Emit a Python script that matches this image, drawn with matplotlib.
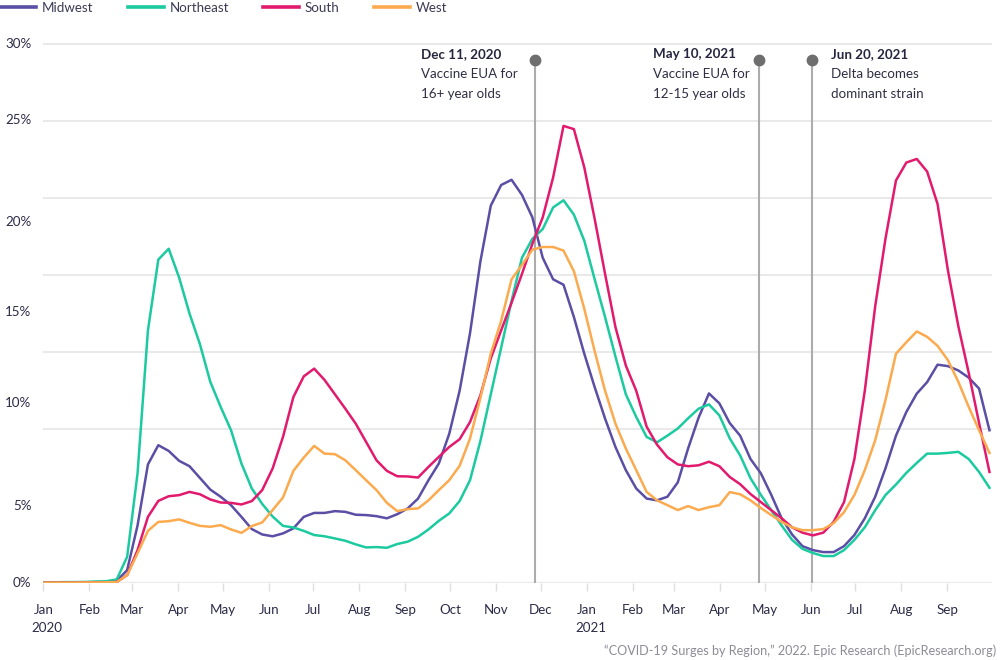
import matplotlib
matplotlib.use('Agg')
import matplotlib.pyplot as plt
import pandas as pd
from matplotlib.lines import Line2D

plt.rcParams['font.family'] = ['Lato', 'DejaVu Sans']

# ---------------- data ----------------
N_WEEKS = 92
week_dates = pd.date_range('2020-01-01 12:00', periods=N_WEEKS, freq='7D')

midwest = [0.03, 0.03, 0.03, 0.03, 0.04, 0.05, 0.06, 0.12, 0.72, 3.2,
           6.6, 7.67, 7.35, 6.8, 6.5, 5.85, 5.2, 4.8, 4.33, 3.68,
           3.0, 2.7, 2.6, 2.76, 3.04, 3.68, 3.9, 3.9, 4.0, 3.96,
           3.8, 3.78, 3.72, 3.6, 3.83, 4.15, 4.7, 5.72, 6.65, 8.3,
           10.7, 13.9, 17.9, 21.0, 22.15, 22.44, 21.6, 20.35, 18.1, 16.9,
           16.6, 14.8, 12.76, 10.9, 9.15, 7.57, 6.28, 5.26, 4.7, 4.6,
           4.8, 5.6, 7.5, 9.2, 10.55, 10.0, 8.9, 8.2, 6.9, 6.1,
           4.9, 3.6, 2.7, 2.05, 1.83, 1.72, 1.72, 2.05, 2.67, 3.6,
           4.8, 6.4, 8.2, 9.52, 10.54, 11.18, 12.15, 12.07, 11.83, 11.43,
           10.82, 8.5]

northeast = [0.04, 0.04, 0.05, 0.05, 0.06, 0.08, 0.1, 0.2, 1.46, 6.1,
             14.06, 18.0, 18.6, 17.0, 15.0, 13.3, 11.2, 9.8, 8.5, 6.65,
             5.26, 4.4, 3.7, 3.18, 3.09, 2.9, 2.67, 2.6, 2.48, 2.35,
             2.15, 1.98, 2.0, 1.96, 2.17, 2.3, 2.57, 2.98, 3.46, 3.87,
             4.56, 5.72, 7.9, 10.5, 13.1, 15.7, 18.1, 19.15, 19.7, 20.9,
             21.3, 20.5, 19.05, 16.9, 14.8, 12.6, 10.5, 9.24, 8.13, 7.83,
             8.2, 8.6, 9.17, 9.7, 9.94, 9.33, 8.05, 7.1, 5.83, 4.9,
             4.05, 3.2, 2.4, 1.9, 1.67, 1.5, 1.5, 1.83, 2.4, 3.1,
             4.05, 4.9, 5.48, 6.13, 6.68, 7.2, 7.2, 7.24, 7.3, 6.9,
             6.18, 5.3]

south = [0.02, 0.02, 0.02, 0.02, 0.03, 0.03, 0.04, 0.06, 0.44, 1.83,
         3.68, 4.57, 4.83, 4.89, 5.07, 4.94, 4.65, 4.48, 4.46, 4.37,
         4.56, 5.17, 6.37, 8.13, 10.35, 11.5, 11.93, 11.3, 10.5, 9.7,
         8.87, 7.85, 6.83, 6.24, 5.94, 5.93, 5.87, 6.46, 7.02, 7.57,
         8.0, 8.96, 10.44, 12.5, 14.06, 15.6, 17.2, 18.87, 20.35, 22.57,
         25.44, 25.26, 23.13, 20.26, 17.2, 14.24, 12.1, 10.7, 8.7, 7.7,
         7.0, 6.6, 6.5, 6.55, 6.75, 6.5, 5.9, 5.5, 4.95, 4.5,
         4.05, 3.6, 3.1, 2.8, 2.65, 2.8, 3.4, 4.5, 6.9, 10.7,
         15.4, 19.2, 22.4, 23.4, 23.6, 22.9, 21.1, 17.4, 14.3, 11.7,
         8.9, 6.18]

west = [0.02, 0.02, 0.02, 0.02, 0.03, 0.03, 0.04, 0.05, 0.44, 1.65,
        2.9, 3.4, 3.44, 3.54, 3.35, 3.18, 3.13, 3.22, 2.98, 2.79,
        3.17, 3.37, 4.06, 4.76, 6.24, 6.98, 7.63, 7.2, 7.17, 6.83,
        6.28, 5.72, 5.17, 4.46, 4.0, 4.11, 4.15, 4.6, 5.17, 5.72,
        6.52, 8.04, 10.3, 12.76, 14.6, 16.9, 17.7, 18.55, 18.7, 18.7,
        18.5, 17.35, 15.26, 12.9, 10.7, 8.87, 7.48, 6.28, 5.07, 4.6,
        4.33, 4.06, 4.28, 4.06, 4.22, 4.33, 5.06, 4.94, 4.6, 4.17,
        3.78, 3.4, 3.1, 2.94, 2.94, 3.0, 3.33, 3.94, 4.9, 6.28,
        7.94, 10.2, 12.76, 13.4, 14.0, 13.7, 13.2, 12.4, 11.2, 9.8,
        8.5, 7.24]

series_names = ['Midwest', 'Northeast', 'South', 'West']
series_values = [midwest, northeast, south, west]
series_colors = ['#5a4ea5', '#1ccaa0', '#e21a6e', '#fcaa4e']

month_labels = ['Jan', 'Feb', 'Mar', 'Apr', 'May', 'Jun', 'Jul', 'Aug', 'Sep', 'Oct', 'Nov', 'Dec',
                'Jan', 'Feb', 'Mar', 'Apr', 'May', 'Jun', 'Jul', 'Aug', 'Sep']
month_ticks = pd.date_range('2020-01-01', periods=len(month_labels), freq='MS')
year_labels = ['2020', '2021']
year_ticks = [pd.Timestamp('2020-01-01'), pd.Timestamp('2021-01-01')]

y_labels = ['0%', '5%', '10%', '15%', '20%', '25%', '30%']

event_dates = [pd.Timestamp('2020-11-27'), pd.Timestamp('2021-04-27'), pd.Timestamp('2021-06-02')]
event_titles = ['Dec 11, 2020', 'May 10, 2021', 'Jun 20, 2021']
event_texts = [['Vaccine EUA for', '16+ year olds'],
               ['Vaccine EUA for', '12-15 year olds'],
               ['Delta becomes', 'dominant strain']]

source_text = '\u201cCOVID-19 Surges by Region,\u201d 2022. Epic Research (EpicResearch.org)'

# ---------------- layout ----------------
W, H = 1000, 660
fig = plt.figure(figsize=(W / 100, H / 100), dpi=100)
x0, x1 = 43.3, 991.7
y0, y1 = 583.0, 42.7
ax = fig.add_axes([x0 / W, 1 - y0 / H, (x1 - x0) / W, (y0 - y1) / H])
ax.set_xlim(pd.Timestamp('2020-01-01'), pd.Timestamp('2021-10-01'))
ax.set_ylim(0, 30)
for s in ax.spines.values():
    s.set_visible(False)

# gridlines (equally spaced as in the reference)
grid_vals = [30 * k / 7 for k in range(2, 8)]
for g in grid_vals:
    ax.axhline(g, color='#e7e7e7', lw=1.3, zorder=0)
ax.axhline(0, color='#ebebeb', lw=2.4, zorder=0.5)

# y labels at the positions where the reference renders them
y_label_pos = [0.07, 4.33, 10.07, 15.13, 20.14, 25.82, 30.07]
ax.set_yticks(y_label_pos)
ax.set_yticklabels(y_labels)
ax.tick_params(axis='y', length=0, pad=8.6, labelsize=9.6, labelcolor='#2b2b48')

ax.set_xticks(month_ticks)
ax.set_xticklabels(month_labels)
ax.tick_params(axis='x', length=5.5, width=1, color='#dedede', pad=9.5,
               labelsize=9.6, labelcolor='#2b2b48')
for d, yl in zip(year_ticks, year_labels):
    ax.annotate(yl, xy=(d, 0), xycoords=('data', 'axes fraction'),
                xytext=(-11.5, -45.5), textcoords='offset pixels',
                ha='left', va='center', fontsize=9.6, color='#2b2b48')

# series
for name, vals, col in zip(series_names, series_values, series_colors):
    ax.plot(week_dates, vals, color=col, lw=1.8, zorder=3, label=name)

# event markers
dot_y = (y0 - 59) / 18.0
ax.vlines(event_dates, 0, dot_y, color='#acacac', lw=1.5, zorder=2)
ax.plot(event_dates, [dot_y] * len(event_dates), 'o', ms=7.5, color='#6e6e6e',
        zorder=4, clip_on=False)
text_dx = [-114, -106, 19]
for d, t, lines, dx in zip(event_dates, event_titles, event_texts, text_dx):
    ax.annotate(t, xy=(d, H - 54), xycoords=('data', 'figure pixels'),
                xytext=(dx, 0), textcoords='offset pixels', ha='left', va='center',
                fontsize=9.6, fontweight='bold', color='#262640')
    for i, ln in enumerate(lines):
        ax.annotate(ln, xy=(d, H - 74 - 20 * i), xycoords=('data', 'figure pixels'),
                    xytext=(dx, 0), textcoords='offset pixels', ha='left', va='center',
                    fontsize=9.6, color='#2f2f45')

# legend
handles = [Line2D([0], [0], color=c, lw=2.6) for c in series_colors]
leg = fig.legend(handles, series_names, loc='center left', bbox_to_anchor=(0.0, 1 - 7.5 / H),
                 ncol=4, frameon=False, handlelength=2.7, handletextpad=0.45,
                 columnspacing=2.55, borderpad=0, borderaxespad=0, fontsize=9.6)
for t in leg.get_texts():
    t.set_color('#3a3a55')

fig.text(996 / W, 1 - 651 / H, source_text, ha='right', va='center',
         fontsize=9.1, color='#8c8c96')

fig.savefig('out.png', dpi=100)
